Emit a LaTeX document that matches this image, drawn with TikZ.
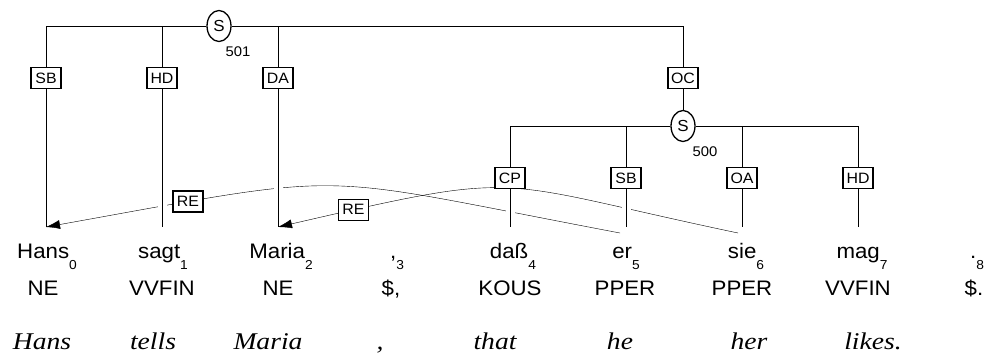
\documentclass[tikz,border=0pt]{standalone}
\usepackage{fontspec}
\setmainfont{Liberation Serif}
\newfontfamily\wordfont[FakeStretch=1.06]{Liberation Sans}
\newfontfamily\engfont[FakeStretch=1.15]{Liberation Serif}
\usetikzlibrary{arrows.meta,shapes.geometric,backgrounds,calc}
\newcommand\tsub[1]{\raisebox{-11pt}{\fontsize{13}{13}\selectfont #1}}
\begin{document}
\begin{tikzpicture}[x=1pt,y=-1pt,line width=1.7pt,
  cat/.style={draw,ellipse,line width=1.3pt,minimum width=24pt,minimum height=31pt,inner sep=0pt,fill=white,font=\wordfont\fontsize{16}{16}\selectfont},
  lab/.style={draw,line width=1.4pt,fill=white,minimum width=30pt,minimum height=21pt,inner sep=0pt,font=\wordfont\fontsize{15}{15}\selectfont},
  num/.style={inner sep=0pt,font=\wordfont\fontsize{14}{14}\selectfont},
  word/.style={inner sep=0pt,anchor=base,font=\wordfont\fontsize{21}{21}\selectfont},
  eng/.style={inner sep=0pt,anchor=base,font=\engfont\itshape\fontsize{24}{24}\selectfont},
  gap/.style={preaction={draw=white,line width=9pt,shorten >=9pt}},
  secedge/.style={-{Latex[length=14pt,width=9pt]}}]
\useasboundingbox (0,0) rectangle (985,356);

% terminals
\coordinate (t0) at (46,227);
\coordinate (t1) at (162,227);
\coordinate (t2) at (278,227);
\coordinate (t4) at (510,227);
\coordinate (t5) at (626,227);
\coordinate (t6) at (742,227);
\coordinate (t7) at (858,227);
\coordinate (e5) at (620,233);
\coordinate (e6) at (738,233);

% tree nodes
\node[cat] (s501) at (219,26) {S};
\node[num] (n501) at (238,52) {501};
\node[lab] (sb1) at (46,78) {SB};
\node[lab] (hd1) at (162,78) {HD};
\node[lab] (da1) at (278,78) {DA};
\node[lab] (oc1) at (683,78) {OC};
\node[cat] (s500) at (683,126) {S};
\node[num] (n500) at (705,152) {500};
\node[lab] (cp) at (510,178) {CP};
\node[lab] (sb2) at (626,178) {SB};
\node[lab] (oa) at (742,178) {OA};
\node[lab] (hd2) at (858,178) {HD};

% words
\node[word] (w0) at (47,258) {Hans\tsub{0}};
\node[word] (w1) at (163,258) {sagt\tsub{1}};
\node[word] (w2) at (281,258) {Maria\tsub{2}};
\node[word] (w3) at (397,258) {,\tsub{3}};
\node[word] (w4) at (513,258) {daß\tsub{4}};
\node[word] (w5) at (626,258) {er\tsub{5}};
\node[word] (w6) at (746,258) {sie\tsub{6}};
\node[word] (w7) at (862,258) {mag\tsub{7}};
\node[word] (w8) at (977,258) {.\tsub{8}};

% tags
\node[word] (p0) at (43,295) {NE};
\node[word] (p1) at (162,295) {VVFIN};
\node[word] (p2) at (278,295) {NE};
\node[word] (p3) at (391,295) {\$,};
\node[word] (p4) at (510,295) {KOUS};
\node[word] (p5) at (625,295) {PPER};
\node[word] (p6) at (742,295) {PPER};
\node[word] (p7) at (858,295) {VVFIN};
\node[word] (p8) at (974,295) {\$.};

% English
\node[eng] (g0) at (42,349) {Hans};
\node[eng] (g1) at (153,349) {tells};
\node[eng] (g2) at (268,349) {Maria};
\node[eng] (g3) at (380,349) {,};
\node[eng] (g4) at (495,349) {that};
\node[eng] (g5) at (620,349) {he};
\node[eng] (g6) at (749,349) {her};
\node[eng] (g7) at (873,349) {likes.};

\begin{scope}[on background layer]
  % secondary edges
  \draw[secedge] (e5) .. controls +(-317,-60) and +(317,-57) .. node[lab,pos=0.815] (re1) {RE} (t0);
  \draw[secedge] (e6) .. controls +(-252,-53) and +(252,-58) .. node[lab,pos=0.886] (re2) {RE} (t2);
  % tree edges
  \draw (s501.west) -| (sb1);
  \draw (s501.west) -| (hd1);
  \draw (s501.east) -| (da1);
  \draw (s501.east) -| (oc1);
  \draw (oc1) -- (s500);
  \draw (s500.west) -| (cp);
  \draw (s500.west) -| (sb2);
  \draw (s500.east) -| (oa);
  \draw (s500.east) -| (hd2);
  \draw (sb1) -- (t0);
  \draw[gap] (hd1) -- (t1);
  \draw[gap] (da1) -- (t2);
  \draw[gap] (cp) -- (t4);
  \draw[gap] (sb2) -- (t5);
  \draw (oa) -- (t6);
  \draw (hd2) -- (t7);
\end{scope}
\end{tikzpicture}
\end{document}
